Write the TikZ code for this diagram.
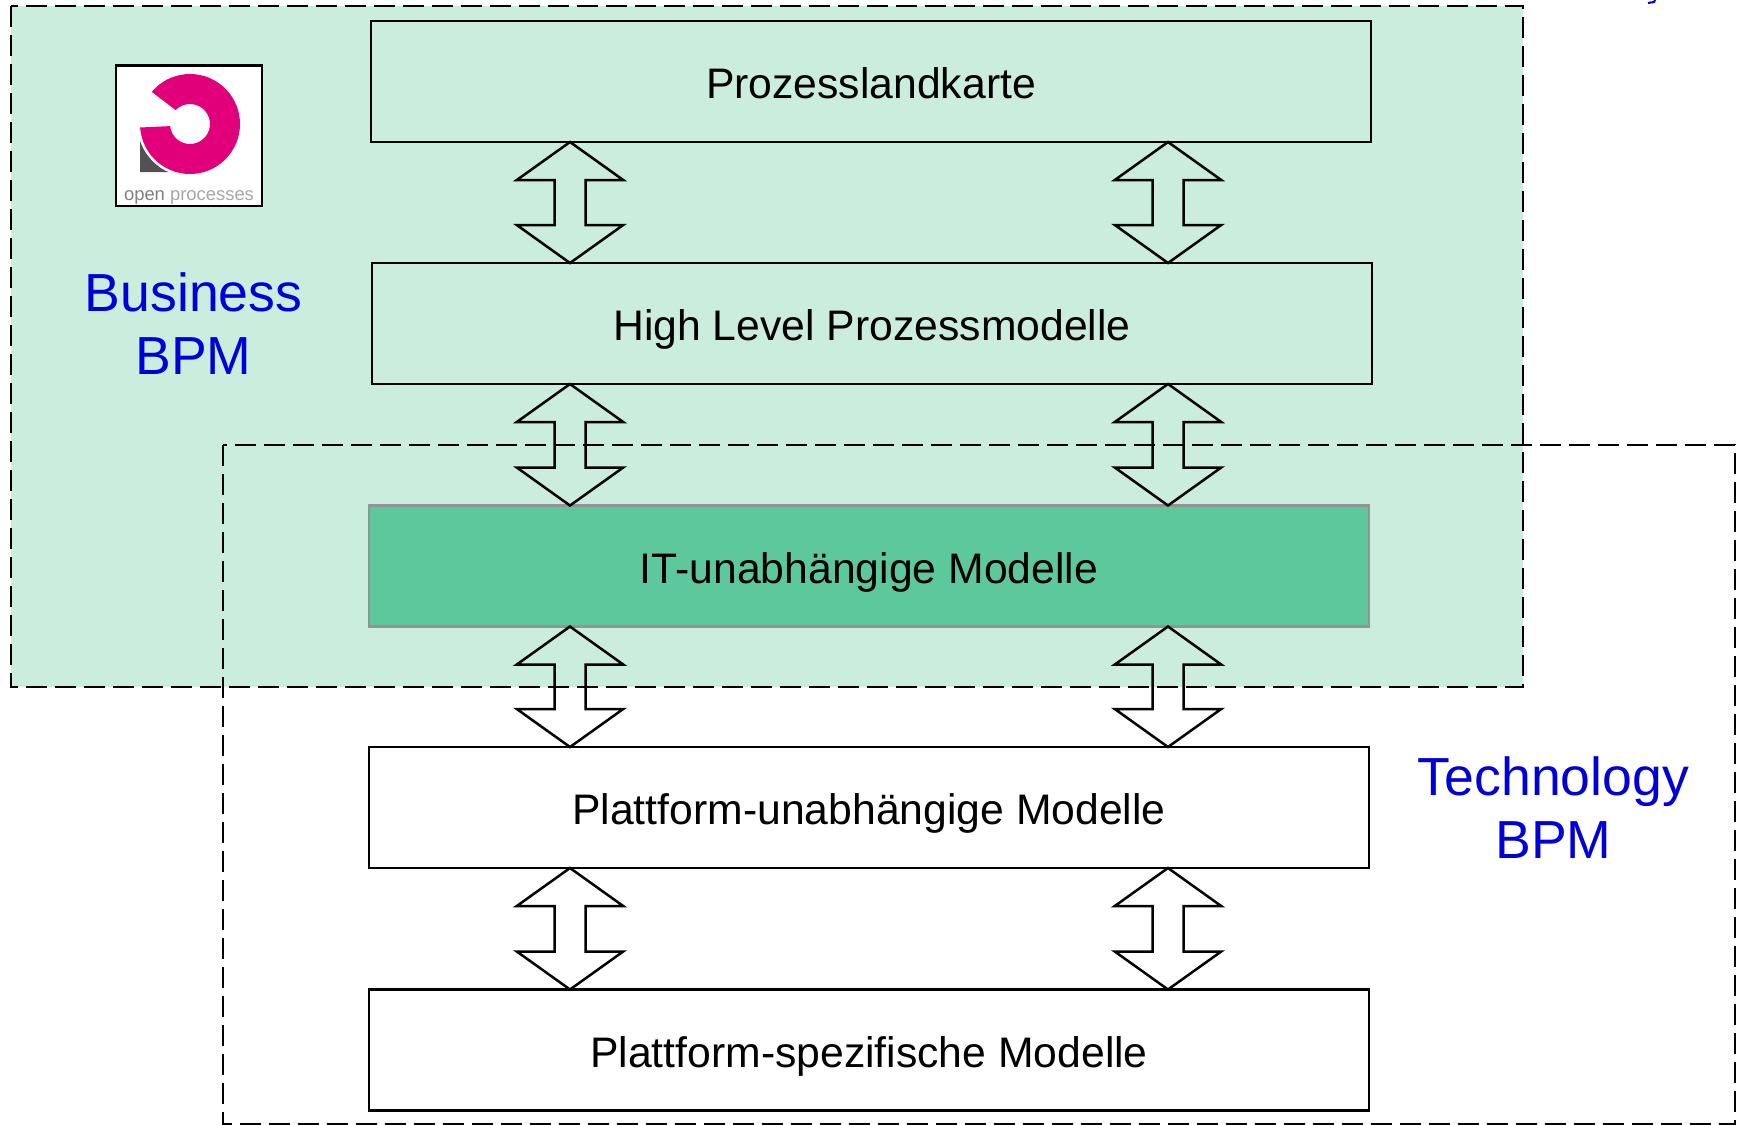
\documentclass[tikz,border=0pt]{standalone}
\usepackage{fontspec}
\setmainfont{Liberation Sans}
\usetikzlibrary{calc,
	positioning}
\definecolor{mint}{HTML}{CBEDDD}
\definecolor{itgreen}{HTML}{5EC89D}
\definecolor{bpmblue}{HTML}{0000D8}
\definecolor{logopink}{HTML}{E2007A}
\tikzstyle{modell}=[draw, line width=1.3pt, minimum width=500pt, minimum height=60.5pt, inner sep=0, outer sep=0, text height=17.4pt, text depth=0pt, font=\fontsize{21.35}{25}\selectfont]
\tikzstyle{itmodell}=[modell, draw=black!42, fill=itgreen]
\tikzstyle{bereich}=[draw, line width=1.4pt, dash pattern=on 10.5pt off 4pt]
\tikzstyle{bpmlabel}=[text=bpmblue, align=center, inner sep=0, font=\fontsize{26.8}{31.5}\selectfont]
\tikzstyle{blockarrow}=[line width=1.25pt, line join=miter, to path={let \p1=(\tikztostart), \p2=(\tikztotarget) in
	(\x1,\y1) -- (\x1+26.6pt,\y1-19pt) -- (\x1+7.75pt,\y1-19pt) -- (\x1+7.75pt,\y2+19pt) -- (\x1+26.6pt,\y2+19pt) -- (\x2,\y2)
	-- (\x1-26.6pt,\y2+19pt) -- (\x1-7.75pt,\y2+19pt) -- (\x1-7.75pt,\y1-19pt) -- (\x1-26.6pt,\y1-19pt) -- cycle}]
\begin{document}
\begin{tikzpicture}[x=0.5pt, y=-0.5pt]
	\useasboundingbox (0,0) rectangle (1737,1125);
	% Bereiche
	\fill[mint] (11,6) rectangle (1523,687);
	\draw[bereich] (11,6) rectangle (1523,687);
	\draw[bereich] (223,445) rectangle (1735,1124.5);
	% Modelle
	\node[modell] (karte) at (871,81.5) {Prozesslandkarte};
	\node[modell, below=60.5pt of karte, xshift=0.5pt] (highlevel) {High Level Prozessmodelle};
	\node[itmodell, below=60.75pt of highlevel, xshift=-1.5pt] (itmodell) {IT-unabhängige Modelle};
	\node[modell, below=60.25pt of itmodell] (plattform) {Plattform-unabhängige Modelle};
	\node[modell, below=60.75pt of plattform] (spezifisch) {Plattform-spezifische Modelle};
	% Pfeile
	\coordinate (colL) at (570,0);
	\coordinate (colR) at (1168,0);
	\foreach \col in {colL,colR} {
		\draw[blockarrow] (karte.south -| \col) to (highlevel.north -| \col);
		\draw[blockarrow] (highlevel.south -| \col) to (itmodell.north -| \col);
		\draw[blockarrow] (itmodell.south -| \col) to (plattform.north -| \col);
		\draw[blockarrow] (plattform.south -| \col) to (spezifisch.north -| \col);
	}
	% Labels
	\node[bpmlabel] (business) at (193.5,323.5) {Business\\BPM};
	\node[bpmlabel] (technology) at (1553.5,807.5) {Technology\\BPM};
	\draw[bpmblue, line width=1pt] (1648,3) -- (1654,2) -- (1655,0);
	% Logo
	\draw[fill=white, line width=1.1pt] (116,65.5) rectangle (262,206);
	\coordinate (logomitte) at (190,124);
	\fill[black!68] (140,141) -- (140,172) -- (172,172) -- cycle;
	\fill[white] (logomitte) circle[radius=26.3pt];
	\fill[logopink] ($(logomitte)+(140:25pt)$) arc[start angle=140, end angle=-176, radius=25pt]
		-- ($(logomitte)+(-174:10pt)$) arc[start angle=-174, end angle=136, radius=10pt] -- cycle;
	\node[inner sep=0, font=\fontsize{9.2}{11}\selectfont, text=black!50] (logotext) at (189,197) {open \textcolor{black!35}{processes}};
\end{tikzpicture}
\end{document}
